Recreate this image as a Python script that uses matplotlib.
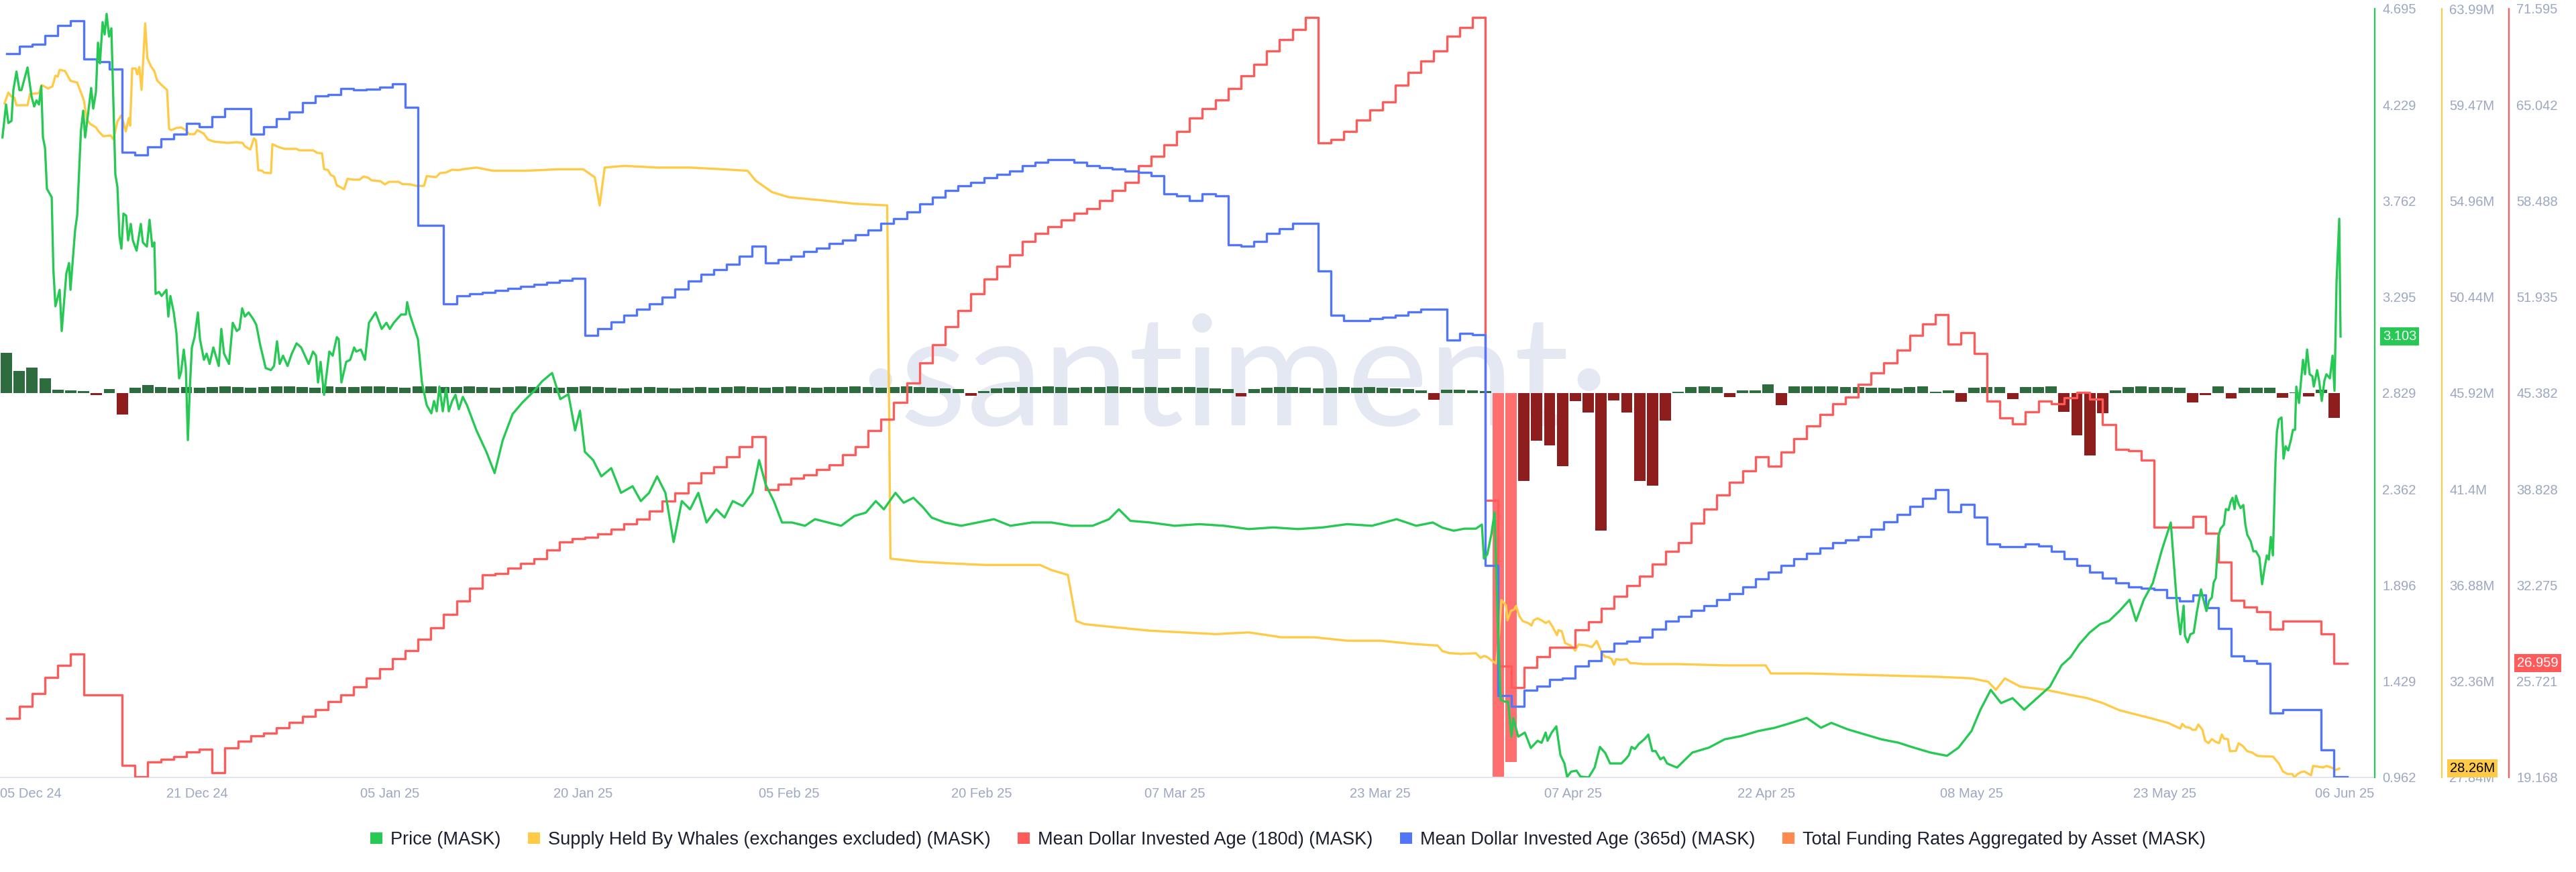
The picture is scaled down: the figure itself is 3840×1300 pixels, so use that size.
import numpy as np
import matplotlib
matplotlib.use("Agg")
import matplotlib.pyplot as plt
import matplotlib.transforms as mtransforms
from matplotlib.patches import Patch

plt.rcParams['font.family'] = ['Liberation Sans', 'DejaVu Sans']

# time axis: days since 2024-12-05 16:00 (left edge of the chart window)
start = np.datetime64('2024-12-05T16:00')
x_end = 184.66

# ---- Price (MASK), irregular samples
price_t = [0.19, 0.47, 0.65, 0.89, 1.04, 1.28, 1.51, 1.67, 2.14, 2.45, 2.66, 2.84, 3.03, 3.21, 3.34, 3.50,
           3.65, 4.02, 4.15, 4.31, 4.64, 4.80, 5.16, 5.37, 5.48, 5.84, 6.00, 6.29, 6.47, 6.62, 6.78, 7.09,
           7.25, 7.46, 7.62, 7.77, 7.98, 8.14, 8.29, 8.48, 8.66, 8.97, 9.13, 9.29, 9.44, 9.60, 9.81, 9.96,
           10.17, 10.33, 10.62, 10.95, 11.11, 11.42, 11.63, 11.84, 12.00, 12.10, 12.36, 12.57, 12.94, 13.09,
           13.25, 13.51, 13.72, 13.93, 14.08, 14.29, 14.45, 14.61, 14.76, 14.92, 15.13, 15.39, 15.55, 15.86,
           16.07, 16.30, 16.59, 17.01, 17.21, 17.42, 17.81, 18.10, 18.41, 18.62, 18.83, 19.04, 19.33, 19.67,
           19.93, 20.24, 20.66, 21.07, 21.31, 21.54, 21.75, 22.01, 22.36, 22.69, 23.06, 23.42, 24.00, 24.34,
           24.57, 24.73, 24.93, 25.20, 25.61, 25.87, 26.19, 26.34, 26.55, 26.92, 27.23, 27.54, 27.70, 28.06,
           28.38, 28.69, 29.21, 29.68, 30.05, 30.31, 30.62, 31.19, 31.56, 31.66, 31.87, 32.13, 32.50, 32.81,
           33.18, 33.54, 33.75, 33.96, 34.17, 34.43, 34.69, 34.90, 35.16, 35.42, 35.68, 35.99, 36.31,
           37.05, 37.82, 38.46, 39.09, 39.86, 40.63, 41.52, 42.16, 42.93, 43.57, 44.20, 44.72, 45.10, 45.48,
           46.12, 46.76, 47.53, 48.29, 49.19, 49.83, 50.47, 51.10, 51.74, 52.38, 53.02, 53.66, 54.30, 54.94,
           55.70, 56.34, 56.98, 57.75, 58.51, 59.03, 59.54, 60.17, 60.81, 61.58, 62.60, 63.37, 64.39, 65.41,
           66.44, 67.33, 68.10, 68.73, 69.63, 70.27, 71.03, 71.80, 72.44, 73.46, 74.74, 76.02, 77.29, 78.57,
           80.23, 81.77, 83.30, 84.96, 86.24, 87.00, 87.90, 89.43, 91.35, 93.26, 95.18, 97.10, 99.01, 100.93,
           102.85, 104.76, 106.68, 108.60, 110.13, 111.41,
           112.16, 113.04, 113.87, 114.76, 115.23, 115.39, 115.65, 115.96, 116.22, 116.33, 116.48, 116.69,
           117.01, 117.27, 117.53, 117.68, 118.05, 118.57, 119.04, 119.56, 119.87, 120.19, 120.34, 120.66,
           121.02, 121.34, 121.65, 121.86, 122.17, 122.59, 122.90, 123.27, 123.53, 124.00, 124.41, 124.83,
           125.20, 125.87, 126.08, 126.40, 126.66, 126.87, 127.13, 127.44, 127.91, 128.17, 128.48, 128.74,
           129.11, 129.37, 129.63, 130.00, 130.41,
           131.6, 132.9, 134.1, 135.4, 136.7, 138.0, 139.3, 140.5, 141.6, 142.4, 143.7, 145.0, 146.3, 147.6,
           148.8, 150.1, 151.4, 152.3, 153.3, 154.0, 154.8, 155.6, 156.5, 157.4, 158.4, 159.4, 160.3, 161.0,
           161.7, 162.5, 163.3, 164.0, 164.8, 165.6, 166.1, 166.7, 167.4, 168.1, 168.8, 169.3,
           169.54, 169.80, 169.90, 170.11, 170.32, 170.58, 170.84, 171.15, 171.36, 171.57, 171.78, 171.99,
           172.14, 172.30, 172.51, 172.67, 172.93, 173.08, 173.29, 173.45, 173.60, 173.76, 173.87, 174.07,
           174.23, 174.44, 174.60, 174.75, 175.01, 175.22, 175.43, 175.69, 175.90, 176.11, 176.27, 176.42,
           176.58, 176.74, 176.94, 177.05, 177.20, 177.41, 177.57, 177.73, 177.93, 178.14, 178.30, 178.46,
           178.56, 178.77, 179.08, 179.24, 179.40, 179.60, 179.81, 179.92, 180.18, 180.33, 180.54, 180.75,
           180.90, 181.17, 181.38, 181.53, 181.69, 181.90, 182.00]
price_v = [4.07, 4.23, 4.14, 4.15, 4.30, 4.39, 4.30, 4.30, 4.41, 4.27, 4.22, 4.25, 4.23, 4.32, 4.07, 4.02,
           3.82, 3.78, 3.43, 3.25, 3.33, 3.13, 3.41, 3.46, 3.33, 3.62, 3.69, 4.10, 4.20, 4.07, 4.15, 4.31,
           4.21, 4.29, 4.53, 4.43, 4.63, 4.57, 4.67, 4.56, 4.60, 3.89, 3.83, 3.59, 3.53, 3.70, 3.69, 3.57,
           3.65, 3.57, 3.52, 3.65, 3.56, 3.54, 3.67, 3.54, 3.56, 3.31, 3.32, 3.30, 3.33, 3.20,
           3.30, 3.22, 3.12, 2.90, 2.93, 3.04, 2.95, 2.60, 2.85, 3.05, 3.10, 3.22, 3.09, 2.99,
           3.02, 2.97, 3.05, 2.96, 3.14, 3.02, 2.97, 3.17, 3.13, 3.14, 3.24, 3.20, 3.22, 3.19,
           3.16, 3.06, 2.95, 2.94, 2.96, 3.08, 2.97, 3.01, 2.96, 3.02, 3.07, 3.05, 2.97, 3.03,
           3.01, 2.88, 2.98, 2.82, 3.03, 3.01, 3.10, 3.09, 2.88, 2.98, 2.99, 3.05, 3.03, 3.04,
           2.99, 3.17, 3.22, 3.14, 3.17, 3.14, 3.17, 3.21, 3.21, 3.27, 3.21, 3.16, 3.09, 2.88,
           2.77, 2.73, 2.79, 2.74, 2.86, 2.74, 2.85, 2.74, 2.79, 2.82, 2.75, 2.81, 2.77,
           2.647, 2.543, 2.440, 2.599, 2.727, 2.783, 2.838, 2.886, 2.926, 2.799, 2.823, 2.647, 2.743, 2.543,
           2.503, 2.424, 2.464, 2.344, 2.376, 2.304, 2.344, 2.424, 2.344, 2.105, 2.304, 2.264, 2.344, 2.200,
           2.264, 2.224, 2.304, 2.280, 2.344, 2.503, 2.384, 2.304, 2.200, 2.200, 2.184, 2.216, 2.200, 2.184,
           2.232, 2.248, 2.304, 2.264, 2.344, 2.296, 2.320, 2.272, 2.224, 2.200, 2.184, 2.200, 2.216, 2.184,
           2.200, 2.200, 2.184, 2.184, 2.216, 2.264, 2.208, 2.200, 2.184, 2.192, 2.184, 2.168, 2.176, 2.168,
           2.176, 2.192, 2.184, 2.216, 2.184, 2.200,
           2.175, 2.16, 2.17, 2.17, 2.19, 2.025, 2.045, 2.14, 2.25, 2.01, 1.69, 1.34,
           1.33, 1.33, 1.16, 1.25, 1.16, 1.18, 1.105, 1.14, 1.13, 1.18, 1.14, 1.18,
           1.21, 1.07, 1.03, 0.965, 0.99, 0.995, 0.966, 0.964, 0.962, 1.01, 1.11, 1.08,
           1.03, 1.03, 1.03, 1.05, 1.07, 1.11, 1.10, 1.125, 1.15, 1.17, 1.09, 1.09,
           1.05, 1.06, 1.03, 1.02, 1.01,
           1.083, 1.107, 1.147, 1.163, 1.187, 1.203, 1.227, 1.251, 1.203, 1.227, 1.195, 1.171, 1.147, 1.131,
           1.107, 1.083, 1.067, 1.107, 1.187, 1.291, 1.387, 1.323, 1.347, 1.291, 1.347, 1.403, 1.506, 1.546,
           1.610, 1.666, 1.706, 1.722, 1.770, 1.825, 1.722, 1.825, 1.905, 2.065, 2.200, 1.785,
           1.657, 1.796, 1.65, 1.618, 1.657, 1.664, 1.77, 1.875, 1.82, 1.77, 1.82, 1.835,
           1.91, 1.93, 2.135, 2.17, 2.19, 2.265, 2.26, 2.30, 2.32, 2.265, 2.33, 2.29,
           2.27, 2.285, 2.19, 2.14, 2.11, 2.06, 2.06, 2.03, 1.90, 1.985, 2.04, 2.02,
           2.13, 2.04, 2.49, 2.64, 2.70, 2.71, 2.51, 2.57, 2.55, 2.60, 2.65, 2.65,
           2.86, 2.78, 2.99, 2.92, 3.04, 2.92, 2.91, 2.86, 2.94, 2.89, 2.79, 2.89,
           2.92, 2.90, 3.01, 2.84, 3.37, 3.675, 3.103]

# ---- Supply Held By Whales (exchanges excluded), in millions
whale_t = [0.35, 0.65, 0.89, 1.12, 1.28, 2.14, 2.33, 3.03, 3.26, 3.72, 4.07, 4.31, 4.49, 4.64, 5.06, 5.48,
           6.00, 6.29, 6.52, 6.76, 7.04, 7.46, 7.67, 8.03, 8.61, 8.82, 9.13, 9.44, 9.78, 10.02, 10.12, 10.28,
           10.54, 10.67, 10.83, 11.01, 11.29, 11.46, 11.74, 12.00, 12.21, 12.57, 12.99, 13.15, 13.30, 13.72,
           14.08, 14.45, 14.71, 15.13, 15.34, 15.84, 16.17, 16.64, 17.68, 18.41, 18.86, 19.04, 19.46, 19.75,
           19.91, 20.08, 20.38, 20.54, 21.07, 21.18, 21.65, 22.12, 23.06, 23.27, 24.34, 24.67, 25.04, 25.20,
           25.51, 25.72, 25.98, 26.19, 26.55, 26.76, 27.02, 27.49, 27.96, 28.27, 28.64, 28.88, 29.58, 29.93,
           30.26, 30.99, 31.30, 31.90, 32.37, 32.97, 33.18, 33.91, 34.22, 34.69, 35.16, 35.63, 36.10, 36.52,
           37.05, 38.33, 40.88, 43.44, 45.35, 46.25, 46.63, 47.02, 48.55, 51.10, 53.66, 56.21, 58.13, 58.77,
           60.05, 61.32, 63.88, 66.44, 68.99, 69.24, 71.55, 74.10, 76.66, 80.87, 81.77, 83.04, 83.68, 84.32,
           86.88, 89.43, 91.99, 94.54, 97.10, 99.65, 102.21, 104.76, 107.32, 109.87, 111.79,
           112.16, 112.68, 113.56, 114.76, 115.13, 115.39, 115.65, 116.01, 116.33, 116.48, 116.75, 116.95,
           117.11, 117.22, 117.48, 117.74, 117.89, 118.15, 118.41, 118.83, 119.09, 119.25, 119.56, 119.87,
           120.19, 120.45, 120.76, 121.07, 121.18, 121.44, 121.70, 122.17, 122.48, 122.74, 123.27, 123.79,
           124.16, 124.52, 124.78, 125.04, 125.30, 125.51, 125.67, 126.08, 126.50, 126.76, 127.13, 127.80,
           128.69, 130.41,
           134.1, 137.3, 137.7, 140.5, 145.6, 150.8, 153.3, 154.6, 155.2, 155.9, 157.1, 159.1, 161.0, 162.3,
           163.5, 164.8, 166.1, 167.4, 168.6,
           169.54, 169.69, 169.95, 170.32, 170.47, 170.74, 170.94, 171.26, 171.47, 171.73, 171.99, 172.30,
           172.56, 172.77, 172.93, 173.24, 173.40, 173.87, 174.07, 174.39, 174.75, 175.12, 175.54, 176.16,
           176.74, 177.20, 177.52, 177.88, 178.25, 178.40, 178.66, 178.93, 179.19, 179.45, 179.71, 179.86,
           180.33, 180.65, 180.90, 181.27, 181.64, 181.90]
whale_v = [59.54, 60.05, 59.86, 59.80, 59.45, 59.45, 59.98, 60.02, 60.40, 60.24, 60.33, 60.84, 60.80, 61.12, 61.06, 60.60,
           60.52, 60.05, 59.68, 58.77, 58.56, 58.41, 58.22, 57.99, 58.03, 57.84, 58.69, 58.98, 58.22, 58.85, 58.49, 61.18,
           61.18, 60.90, 61.25, 60.17, 63.30, 61.66, 61.28, 61.06, 60.62, 60.40, 60.17, 58.34, 58.28, 58.38,
           58.41, 58.28, 58.09, 58.09, 58.28, 58.12, 57.84, 57.74, 57.68, 57.71, 57.68, 57.52, 57.37, 57.90,
           57.78, 56.40, 56.37, 56.28, 56.26, 57.62, 57.49, 57.40, 57.40, 57.33, 57.33, 57.21, 57.19, 56.45,
           56.40, 56.17, 56.10, 55.69, 55.57, 55.50, 55.99, 55.95, 55.95, 56.10, 56.04, 55.92, 55.88, 55.73,
           55.85, 55.85, 55.74, 55.73, 55.66, 55.66, 56.12, 56.07, 56.26, 56.29, 56.42, 56.40, 56.45, 56.48,
           56.52, 56.37, 56.37, 56.44, 56.44, 56.06, 54.74, 56.52, 56.60, 56.52, 56.52, 56.44, 56.37, 55.90,
           55.36, 55.13, 54.98, 54.82, 54.74, 38.13, 37.98, 37.90, 37.83, 37.83, 37.59, 37.36, 35.20, 35.05,
           34.89, 34.74, 34.66, 34.58, 34.66, 34.43, 34.43, 34.27, 34.27, 34.12, 34.04,
           33.78, 33.69, 33.65, 33.68, 33.46, 33.55, 33.50, 33.33, 33.20, 33.90, 36.18, 36.05,
           35.93, 35.23, 35.67, 35.74, 35.90, 35.42, 35.19, 35.10, 34.98, 35.23, 35.32, 35.23,
           35.10, 35.19, 34.89, 34.53, 34.76, 34.72, 34.16, 34.03, 33.80, 34.09, 34.06, 33.97,
           34.26, 33.75, 33.52, 33.50, 33.42, 33.14, 33.40, 33.37, 33.40, 33.21, 33.21, 33.17,
           33.17, 33.17,
           33.11, 33.11, 32.73, 32.73, 32.65, 32.57, 32.50, 32.34, 31.96, 32.50, 32.11, 31.96, 31.72, 31.57,
           31.34, 31.00, 30.80, 30.60, 30.40,
           30.14, 30.36, 30.21, 30.17, 30.08, 30.08, 30.33, 30.08, 29.57, 29.45, 29.64, 29.51,
           29.45, 29.86, 29.67, 29.64, 29.07, 29.09, 29.45, 29.32, 29.07, 29.01, 28.85, 28.83,
           28.82, 28.50, 28.12, 28.00, 28.00, 27.84, 28.00, 28.09, 28.12, 28.03, 27.94, 28.38,
           28.34, 28.31, 28.38, 28.31, 28.19, 28.26]

# ---- Mean Dollar Invested Age (180d), one value per day
mdia180 = [23.2, 24.0, 24.9, 26.0, 26.8, 27.6, 24.8, 24.8, 24.8, 20.0, 19.2, 20.2, 20.4, 20.6, 20.9, 21.1,
           19.5, 21.2, 21.66, 22.0, 22.2, 22.55, 22.9, 23.34, 23.79, 24.35, 24.80, 25.36, 25.92, 26.59, 27.26,
           27.82, 28.61, 29.39, 30.29, 31.19, 32.08, 32.98, 33.09, 33.43, 33.76, 34.10, 34.66, 35.22, 35.44,
           35.55, 35.78, 36.11, 36.45, 36.79, 37.35, 38.02, 38.58, 39.25, 39.92, 40.37, 41.04, 41.72, 42.39,
           38.8, 39.14, 39.59, 39.81, 40.15, 40.48, 41.15, 41.72, 42.83, 43.62, 44.74, 46.08, 47.43, 48.66,
           49.89, 51.01, 52.13, 53.14, 54.04, 54.82, 55.72, 56.28, 56.73, 57.18, 57.62, 57.96, 58.52, 59.19,
           59.75, 60.87, 61.55, 62.33, 63.23, 64.12, 64.80, 65.36, 66.14, 67.04, 67.82, 68.72, 69.50, 70.17,
           71.0, 62.44, 62.67, 63.23, 64.01, 64.68, 65.24, 66.36, 67.26, 68.04, 68.72, 69.73, 70.3, 71.0,
           38.06, 26.76, 25.3, 26.67, 27.4, 28.04, 28.04, 29.23, 29.78, 30.7, 31.52, 32.25, 32.89, 33.73,
           34.58, 35.2, 36.51, 37.47, 38.43, 39.30, 40.08, 41.04, 40.40, 41.36, 42.27, 43.14, 43.92, 44.65,
           45.11, 45.98, 46.75, 47.44, 48.31, 49.32, 50.09, 50.73, 48.72, 49.50, 48.08, 44.83, 43.69, 43.28,
           44.10, 44.83, 44.65, 45.06, 45.43, 44.97, 43.23, 41.54, 41.45, 40.81, 36.24, 36.24, 36.24, 36.96,
           35.82, 33.86, 31.25, 30.79, 30.47, 29.28, 29.83, 29.83, 29.83, 28.96, 26.959, 26.959]

# ---- Mean Dollar Invested Age (365d), one value per day (no axis shown on the chart)
mdia365 = [163.9, 164.67, 164.90, 165.78, 166.79, 167.3, 163.37, 163.13, 162.37, 153.89, 153.60, 154.44,
           155.27, 155.75, 156.79, 156.49, 157.50, 158.34, 158.34, 155.75, 156.49, 157.30, 158.0, 158.93,
           159.62, 159.75, 160.39, 160.23, 160.33, 160.54, 160.82, 158.46, 146.45, 146.45, 138.43, 139.28,
           139.49, 139.6, 139.8, 140.0, 140.2, 140.4, 140.6, 140.8, 141.0, 135.25, 135.92, 136.59, 137.25,
           137.92, 138.43, 139.1, 139.93, 140.77, 141.44, 141.94, 142.44, 143.28, 144.28, 142.61, 142.94,
           143.28, 143.78, 144.11, 144.61, 144.95, 145.45, 145.95, 146.62, 147.13, 147.80, 148.63, 149.30,
           149.97, 150.47, 150.81, 151.31, 151.64, 151.98, 152.48, 152.82, 153.15, 153.15, 152.82, 152.48,
           152.31, 152.15, 151.98, 151.81, 151.48, 149.64, 149.47, 148.97, 149.64, 149.47, 144.45, 144.28,
           144.78, 145.62, 146.12, 146.62, 146.62, 141.77, 137.25, 136.75, 136.75, 136.92, 137.09, 137.25,
           137.59, 137.92, 137.92, 134.74, 135.41, 135.3, 111.82, 98.53, 97.44, 99.08, 99.49, 100.18,
           100.32, 101.54, 102.09, 103.04, 103.86, 104.1, 104.48, 105.3, 106.12, 106.6, 107.2, 107.7,
           108.3, 108.9, 109.6, 110.4, 111.1, 111.8, 112.5, 113.0, 113.6, 114.1, 114.4, 114.73, 115.48,
           116.23, 116.98, 117.80, 118.62, 119.51, 117.25, 118.0, 116.71, 114.0, 113.7, 113.7, 114.0,
           113.8, 113.2, 112.5, 111.8, 111.1, 110.5, 110.0, 109.6, 109.5, 109.3, 108.5, 108.2, 108.8,
           107.5, 105.35, 102.59, 102.09, 101.8, 96.76, 97.1, 97.1, 97.1, 93.0, 90.3, 90.3]

# ---- Total Funding Rates Aggregated by Asset (%), one bar per day
funding = [0.060, 0.033, 0.038, 0.022, 0.005, 0.004, 0.003, -0.003, 0.006, -0.032, 0.008, 0.012, 0.009,
           0.008, 0.009, 0.008, 0.009, 0.010, 0.009, 0.008, 0.009, 0.010, 0.010, 0.009, 0.008, 0.010,
           0.009, 0.009, 0.010, 0.010, 0.009, 0.008, 0.010, 0.010, 0.009, 0.009, 0.010, 0.009, 0.008,
           0.009, 0.010, 0.009, 0.009, 0.008, 0.009, 0.010, 0.009, 0.008, 0.007, 0.008, 0.009, 0.008,
           0.007, 0.008, 0.009, 0.008, 0.009, 0.010, 0.009, 0.008, 0.009, 0.010, 0.009, 0.008, 0.009,
           0.009, 0.010, 0.009, 0.008, 0.009, 0.010, 0.009, 0.008, 0.007, 0.006, -0.004, 0.003, 0.007,
           0.008, 0.009, 0.009, 0.010, 0.009, 0.008, 0.009, 0.009, 0.010, 0.009, 0.008, 0.009, 0.008,
           0.009, 0.009, 0.008, 0.007, 0.006, -0.005, 0.006, 0.008, 0.009, 0.009, 0.008, 0.007, 0.008,
           0.009, 0.008, 0.009, 0.008, 0.007, 0.006, 0.004, -0.010, 0.005, 0.005, 0.004, 0.003, -0.575,
           -0.550, -0.131, -0.071, -0.078, -0.109, -0.012, -0.029, -0.205, -0.011, -0.029, -0.131, -0.138,
           -0.041, 0.002, 0.009, 0.010, 0.009, -0.006, 0.004, 0.004, 0.013, -0.018, 0.010, 0.010, 0.010,
           0.010, 0.009, 0.009, 0.008, 0.008, 0.007, 0.009, 0.010, 0.002, 0.004, -0.013, 0.008, 0.009,
           0.009, -0.009, 0.009, 0.009, 0.010, -0.028, -0.063, -0.093, -0.030, 0.004, 0.009, 0.010,
           0.009, 0.009, 0.008, -0.014, -0.003, 0.010, -0.008, 0.008, 0.008, 0.008, -0.007, 0.001,
           -0.005, 0.005, -0.037]

# ---- axes ticks and labels
tick_dates = ['2024-12-05T16:00', '2024-12-21', '2025-01-05', '2025-01-20', '2025-02-05', '2025-02-20',
              '2025-03-07', '2025-03-23', '2025-04-07', '2025-04-22', '2025-05-08', '2025-05-23', '2025-06-06']
tick_labels = ['05 Dec 24', '21 Dec 24', '05 Jan 25', '20 Jan 25', '05 Feb 25', '20 Feb 25', '07 Mar 25',
               '23 Mar 25', '07 Apr 25', '22 Apr 25', '08 May 25', '23 May 25', '06 Jun 25']
price_ticks = [0.962, 1.429, 1.896, 2.362, 2.829, 3.295, 3.762, 4.229, 4.695]
price_tick_labels = ['0.962', '1.429', '1.896', '2.362', '2.829', '3.295', '3.762', '4.229', '4.695']
whale_ticks = [27.84, 32.36, 36.88, 41.4, 45.92, 50.44, 54.96, 59.47, 63.99]
whale_tick_labels = ['27.84M', '32.36M', '36.88M', '41.4M', '45.92M', '50.44M', '54.96M', '59.47M', '63.99M']
mdia_ticks = [19.168, 25.721, 32.275, 38.828, 45.382, 51.935, 58.488, 65.042, 71.595]
mdia_tick_labels = ['19.168', '25.721', '32.275', '38.828', '45.382', '51.935', '58.488', '65.042', '71.595']

legend_labels = ['Price (MASK)', 'Supply Held By Whales (exchanges excluded) (MASK)',
                 'Mean Dollar Invested Age (180d) (MASK)', 'Mean Dollar Invested Age (365d) (MASK)',
                 'Total Funding Rates Aggregated by Asset (MASK)']

GREEN = '#26c953'
YELLOW = '#ffcb47'
RED = '#ff5b5b'
BLUE = '#5275ff'
ORANGE = '#ff8a4f'
TICK_C = '#9ca7c2'

fig = plt.figure(figsize=(38.4, 13), dpi=100, facecolor='white')
host = fig.add_axes([0, 141 / 1300, 3540 / 3840, 1146 / 1300])
ax_y = host.twinx()
ax_r = host.twinx()
ax_b = host.twinx()
ax_p = host.twinx()

# watermark
host.text(0.52, 0.515, '·santiment·', transform=host.transAxes, ha='center', va='center',
          fontsize=165, color='#e4e8f2', family=['Lato', 'DejaVu Sans'], zorder=0)

# funding bars
fx = np.arange(len(funding)) + 0.5
fcol = ['#ff6f6f' if v < -0.3 else ('#8e1d1d' if v < 0 else '#2e6b3e') for v in funding]
host.bar(fx, funding, width=0.88, color=fcol, linewidth=0, zorder=2)
host.set_ylim(-0.573, 0.573)
host.set_xlim(0, x_end)

ax_y.plot(whale_t, whale_v, color=YELLOW, lw=2.4, solid_joinstyle='round')
ax_y.set_ylim(27.84, 63.99)

ax_r.step(np.arange(len(mdia180)) + 0.5, mdia180, where='post', color=RED, lw=2.4)
ax_r.set_ylim(19.168, 71.595)

ax_b.step(np.arange(len(mdia365)) + 0.5, mdia365, where='post', color=BLUE, lw=2.4)
ax_b.set_ylim(90.2, 168.5)

ax_p.plot(price_t, price_v, color=GREEN, lw=2.4, solid_joinstyle='round')
ax_p.set_ylim(0.962, 4.695)

for a in (host, ax_y, ax_r, ax_b, ax_p):
    a.set_xlim(0, x_end)
    for s in ('top', 'left', 'right', 'bottom'):
        a.spines[s].set_visible(False)

host.spines['bottom'].set_visible(True)
host.spines['bottom'].set_color('#e1e5ef')
host.spines['bottom'].set_linewidth(1.5)
host.yaxis.set_visible(False)

tick_pos = [(np.datetime64(d) - start) / np.timedelta64(1, 'D') for d in tick_dates]
host.set_xticks(tick_pos, tick_labels)
host.tick_params(axis='x', length=0, pad=11, labelsize=14.5, labelcolor=TICK_C)
host.get_xticklabels()[0].set_ha('left')

ax_b.yaxis.set_visible(False)

for a, pos, col, ticks, labels in ((ax_p, 1.0, GREEN, price_ticks, price_tick_labels),
                                   (ax_y, 3640 / 3540, YELLOW, whale_ticks, whale_tick_labels),
                                   (ax_r, 3740 / 3540, RED, mdia_ticks, mdia_tick_labels)):
    a.spines['right'].set_visible(True)
    a.spines['right'].set_position(('axes', pos))
    a.spines['right'].set_color(col)
    a.spines['right'].set_linewidth(1.6)
    a.set_yticks(ticks, labels)
    a.tick_params(axis='y', length=0, pad=8, labelsize=14.5, labelcolor=TICK_C)

# last-value tags
tags = ((ax_p, 3552, price_v[-1], '3.103', GREEN, 'white'),
        (ax_y, 3652, whale_v[-1], '28.26M', YELLOW, 'black'),
        (ax_r, 3752, mdia180[-1], '26.959', RED, 'white'))
for a, xpx, val, txt, bg, fg in tags:
    tr = mtransforms.blended_transform_factory(a.transAxes, a.transData)
    a.text(xpx / 3540, val, txt, transform=tr, ha='left', va='center', fontsize=14.5, color=fg,
           bbox=dict(boxstyle='square,pad=0.2', fc=bg, ec='none'), clip_on=False, zorder=10)

handles = [Patch(facecolor=c, edgecolor='none', label=l)
           for c, l in zip([GREEN, YELLOW, RED, BLUE, ORANGE], legend_labels)]
fig.legend(handles=handles, loc='center', bbox_to_anchor=(0.5, 1 - 1252 / 1300), ncol=5, frameon=False,
           fontsize=19.5, handlelength=0.66, handleheight=0.62, handletextpad=0.45, columnspacing=1.5,
           labelcolor='#1b1e2e')

fig.savefig('out.png', dpi=100, facecolor='white')
